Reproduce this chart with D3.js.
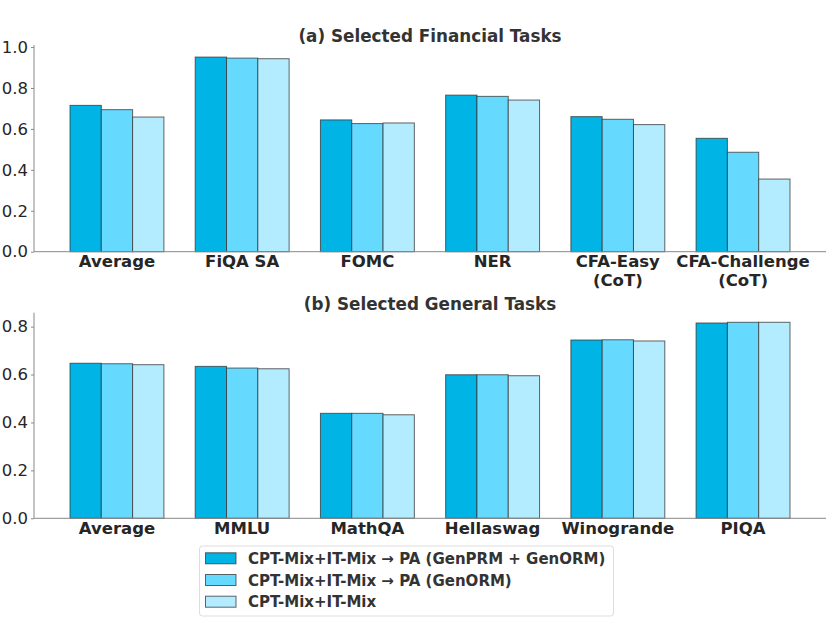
<!DOCTYPE html>
<html>
<head>
<meta charset="utf-8">
<script src="https://cdn.jsdelivr.net/npm/d3@7"></script>
<style>
  body { margin: 0; background: #fff; }
  svg { display: block; font-family: "DejaVu Sans", sans-serif; }
</style>
</head>
<body>
<script>
// data
var seriesNames = [
  "CPT-Mix+IT-Mix \u2192 PA (GenPRM + GenORM)",
  "CPT-Mix+IT-Mix \u2192 PA (GenORM)",
  "CPT-Mix+IT-Mix"
];
var seriesColors = ["#00b4e6", "#66d9ff", "#b3ebff"];

var finCats = ["Average", "FiQA SA", "FOMC", "NER", "CFA-Easy\n(CoT)", "CFA-Challenge\n(CoT)"];
var finA = [0.715, 0.951, 0.644, 0.765, 0.660, 0.554];
var finB = [0.694, 0.946, 0.626, 0.759, 0.647, 0.486];
var finC = [0.658, 0.943, 0.629, 0.741, 0.621, 0.355];
var finTicks = [0.0, 0.2, 0.4, 0.6, 0.8, 1.0];

var genCats = ["Average", "MMLU", "MathQA", "Hellaswag", "Winogrande", "PIQA"];
var genA = [0.647, 0.634, 0.438, 0.599, 0.744, 0.815];
var genB = [0.645, 0.627, 0.438, 0.599, 0.745, 0.818];
var genC = [0.641, 0.624, 0.432, 0.595, 0.740, 0.818];
var genTicks = [0.0, 0.2, 0.4, 0.6, 0.8];

var W = 830, H = 642;
var left = 34, right = 826;
var barW = 0.25;

var svg = d3.select("body").append("svg")
  .attr("width", W).attr("height", H);

function drawPanel(title, cats, series, yMax, ticks, top, bottom) {
  var n = cats.length;
  var pad = 0.05 * (n - 1 + 3 * barW);
  var x = d3.scaleLinear()
    .domain([-1.5 * barW - pad, n - 1 + 1.5 * barW + pad])
    .range([left, right]);
  var y = d3.scaleLinear().domain([0, yMax]).range([bottom, top]);

  var g = svg.append("g");

  series.forEach(function(vals, s) {
    g.selectAll("rect.s" + s)
      .data(vals)
      .enter().append("rect")
      .attr("class", "s" + s)
      .attr("x", function(d, i) { return x(i + (s - 1.5) * barW); })
      .attr("width", x(barW) - x(0))
      .attr("y", function(d) { return y(d); })
      .attr("height", function(d) { return y(0) - y(d); })
      .attr("fill", seriesColors[s])
      .attr("stroke", "#333")
      .attr("stroke-opacity", 0.75)
      .attr("stroke-width", 1);
  });

  // y axis
  var ya = g.append("g")
    .attr("transform", "translate(" + left + ",0)")
    .call(d3.axisLeft(y).tickValues(ticks).tickFormat(d3.format(".1f")).tickSize(3).tickPadding(3));
  ya.select(".domain").attr("stroke", "#888").attr("d", "M0," + bottom + "V" + top);
  ya.selectAll(".tick line").attr("stroke", "#888");
  ya.selectAll(".tick text")
    .attr("font-size", 16.5).attr("fill", "#262626")
    .attr("font-family", "DejaVu Sans, sans-serif");

  // x axis
  g.append("line")
    .attr("x1", left).attr("x2", right)
    .attr("y1", bottom).attr("y2", bottom)
    .attr("stroke", "#888").attr("stroke-width", 1);

  var xl = g.selectAll("text.xl")
    .data(cats)
    .enter().append("text")
    .attr("class", "xl")
    .attr("x", function(d, i) { return x(i); })
    .attr("y", bottom + 15.5)
    .attr("text-anchor", "middle")
    .attr("font-size", 16.5)
    .attr("font-weight", "bold")
    .attr("fill", "#262626");
  xl.each(function(d) {
    var t = d3.select(this);
    d.split("\n").forEach(function(line, k) {
      t.append("tspan")
        .attr("x", t.attr("x"))
        .attr("dy", k === 0 ? 0 : 18.5)
        .text(line);
    });
  });

  g.append("text")
    .attr("x", (left + right) / 2)
    .attr("y", top - 3)
    .attr("text-anchor", "middle")
    .attr("font-size", 16.8)
    .attr("font-weight", "bold")
    .attr("fill", "#333")
    .text(title);
}

drawPanel("(a) Selected Financial Tasks", finCats, [finA, finB, finC], 1.01, finTicks, 45, 251.7);
drawPanel("(b) Selected General Tasks", genCats, [genA, genB, genC], 0.858, genTicks, 312.7, 518.3);

// legend
var lg = svg.append("g").attr("transform", "translate(199.5,546)");
lg.append("rect")
  .attr("width", 414).attr("height", 70)
  .attr("rx", 3)
  .attr("fill", "#fff")
  .attr("stroke", "#ddd");
var items = lg.selectAll("g.item")
  .data(seriesNames)
  .enter().append("g")
  .attr("class", "item")
  .attr("transform", function(d, i) { return "translate(6," + (12.3 + i * 21.7) + ")"; });
items.append("rect")
  .attr("x", 0).attr("y", -5.5)
  .attr("width", 30.5).attr("height", 11)
  .attr("fill", function(d, i) { return seriesColors[i]; })
  .attr("stroke", "#333").attr("stroke-opacity", 0.75);
items.append("text")
  .attr("x", 42.5).attr("y", 5.5)
  .attr("font-size", 15)
  .attr("font-weight", "bold")
  .attr("fill", "#333")
  .text(function(d) { return d; });
</script>
</body>
</html>
